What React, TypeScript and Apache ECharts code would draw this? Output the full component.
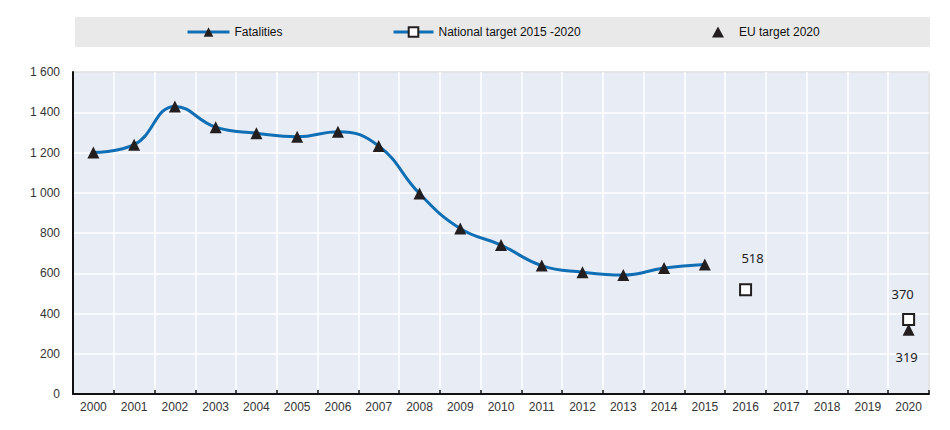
import React, { useEffect, useRef } from "react";
import * as echarts from "echarts";

const years = ["2000","2001","2002","2003","2004","2005","2006","2007","2008","2009","2010","2011","2012","2013","2014","2015","2016","2017","2018","2019","2020"];
const fatalities = [1200, 1239, 1429, 1326, 1296, 1278, 1303, 1232, 996, 822, 740, 638, 605, 591, 626, 644, null, null, null, null, null];
const nationalTarget = [null, null, null, null, null, null, null, null, null, null, null, null, null, null, null, null, 518, null, null, null, 370];
const euTarget = [null, null, null, null, null, null, null, null, null, null, null, null, null, null, null, null, null, null, null, null, 319];
const yTicks = { min: 0, max: 1600, interval: 200 };

const BLUE = "#0f6eb4";
const BLACK = "#231f20";
const NARROW = "'Liberation Sans Narrow', 'Arial Narrow', 'Liberation Sans', Arial, sans-serif";
const SANS = "'Liberation Sans', Arial, sans-serif";

export default function App() {
  const ref = useRef<HTMLDivElement>(null);
  useEffect(() => {
    document.body.style.margin = "0";
    const chart = echarts.init(ref.current!, null, { renderer: "svg" });
    const legendBase = {
      top: 26,
      padding: 0,
      itemHeight: 12,
      textStyle: { fontFamily: NARROW, fontSize: 12, color: "#111" },
      selectedMode: false,
    };
    chart.setOption({
      animation: false,
      backgroundColor: "#ffffff",
      graphic: [
        { type: "rect", shape: { x: 75, y: 17, width: 855, height: 30 }, style: { fill: "#e9e9ea" }, z: -1 },
      ],
      legend: [
        { ...legendBase, left: 186, itemWidth: 42, data: [{ name: "Fatalities", lineStyle: { width: 3, color: BLUE } }] },
        { ...legendBase, left: 392, itemWidth: 40, data: [{ name: "National target 2015 -2020", lineStyle: { width: 3, color: BLUE } }] },
        { ...legendBase, left: 712, itemWidth: 12, itemHeight: 11, itemStyle: { opacity: 1 }, textStyle: { ...legendBase.textStyle, padding: [0, 0, 0, 10] }, data: [{ name: "EU target 2020" }] },
      ],
      grid: {
        left: 73, right: 21, top: 72, bottom: 36,
        show: true, backgroundColor: "#e8ecf5", borderColor: "#333", borderWidth: 1,
      },
      xAxis: {
        type: "category",
        data: years,
        boundaryGap: true,
        axisLine: { lineStyle: { color: "#111", width: 2 } },
        axisTick: { show: true, inside: true, length: 4, lineStyle: { color: "#111", width: 1.5 } },
        axisLabel: { color: "#333", fontSize: 12, fontFamily: SANS, margin: 7 },
        splitLine: { show: true, lineStyle: { color: "#ffffff", width: 1.5 } },
      },
      yAxis: {
        type: "value",
        min: yTicks.min, max: yTicks.max, interval: yTicks.interval,
        axisLine: { show: true, lineStyle: { color: "#111", width: 2 } },
        axisTick: { show: false },
        axisLabel: {
          color: "#333", fontSize: 12, fontFamily: SANS, margin: 13,
          formatter: (v: number) => String(v).replace(/\B(?=(\d{3})+(?!\d))/g, " "),
        },
        splitLine: { show: true, lineStyle: { color: "#ffffff", width: 1.5 } },
      },
      series: [
        {
          name: "Fatalities",
          type: "line",
          data: fatalities,
          smooth: 0.45,
          symbol: "triangle",
          symbolSize: 12,
          lineStyle: { color: BLUE, width: 3 },
          itemStyle: { color: BLACK },
          z: 3,
        },
        {
          name: "National target 2015 -2020",
          type: "line",
          data: nationalTarget.map((v, i) =>
            v == null ? null : {
              value: v,
              label: i === 16
                ? { show: true, position: "top", distance: 19, offset: [7, 0] }
                : { show: true, position: "top", distance: 13, offset: [-6, 0] },
            }
          ),
          symbol: "rect",
          symbolSize: 11,
          showAllSymbol: true,
          lineStyle: { color: BLUE, width: 3 },
          itemStyle: { color: "#ffffff", borderColor: BLACK, borderWidth: 2 },
          label: { color: "#222", fontSize: 13, fontFamily: "'Noto Sans', 'DejaVu Sans', sans-serif" },
          z: 4,
        },
        {
          name: "EU target 2020",
          type: "scatter",
          data: euTarget.map((v) => v == null ? null : { value: v, label: { show: true, position: "bottom", distance: 15, offset: [-2, 0] } }),
          symbol: "triangle",
          symbolSize: 12,
          itemStyle: { color: BLACK, opacity: 1 },
          label: { color: "#222", fontSize: 13, fontFamily: "'Noto Sans', 'DejaVu Sans', sans-serif" },
          z: 3,
        },
      ],
    });
    return () => chart.dispose();
  }, []);
  return <div ref={ref} style={{ width: 950, height: 430 }} />;
}
